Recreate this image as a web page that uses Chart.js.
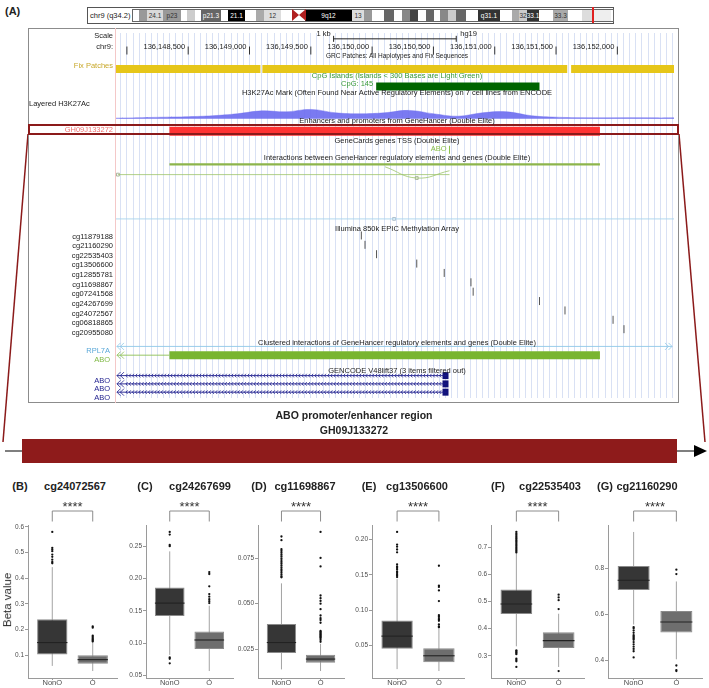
<!DOCTYPE html>
<html>
<head>
<meta charset="utf-8">
<title>ABO promoter/enhancer region and probe methylation</title>
<script src="https://cdn.jsdelivr.net/npm/chart.js"></script>
<style>
  html, body { margin: 0; padding: 0; background: #fff; }
  body { width: 709px; height: 688px; position: relative; overflow: hidden;
         font-family: "Liberation Sans", Arial, Helvetica, sans-serif; }
  .abs { position: absolute; white-space: nowrap; }
  canvas { position: absolute; }
</style>
</head>
<body>
<svg width="709" height="688" style="position:absolute;left:0;top:0">
  <line x1="28" y1="134" x2="3" y2="442" stroke="#8b1a1a" stroke-width="1.5"/>
  <line x1="679" y1="134" x2="705" y2="442" stroke="#8b1a1a" stroke-width="1.5"/>
  <line x1="5" y1="451" x2="697" y2="451" stroke="#000" stroke-width="1.2"/>
  <polygon points="694,445 707,451 694,457" fill="#000"/>
  <rect x="22" y="439" width="655" height="24" fill="#8e1b1b"/>
</svg>
<script>
// ---------------- genome browser (A) ----------------
var viewStart = 147903, viewEnd = 152462;
var rulerTicks = [148000, 148500, 149000, 149500, 150000, 150500, 151000, 151500, 152000];
var scaleBar = [149686, 150686];
var fixPatches = [[147903, 149089], [149105, 151591], [151623, 152462]];
var cpgIsland = [150033, 151365];
var geneHancer = [148347, 151858];
var aboTss = 150631;
var interaction = [148347, 151858];
var interactionLink = [147927, 150631];
var interactionArc = [150106, 150364, 150631];
var clusterAnchor = 150179;
var h3kPos = [147903, 148100, 148300, 148500, 148700, 148900, 149100, 149300, 149500, 149700, 149900, 150100,
              150300, 150500, 150700, 150900, 151100, 151300, 151500, 151700, 151900, 152100, 152300, 152462];
var h3kVal = [0.5, 1, 1.5, 2, 3, 5, 8, 7, 9.5, 6, 5, 6, 8.5, 5, 2.5, 6, 7, 3, 1.5, 1, 0.8, 1, 0.8, 0.8];
var probeNames = ['cg11879188', 'cg21160290', 'cg22535403', 'cg13506600', 'cg12855781', 'cg11698867',
                  'cg07241568', 'cg24267699', 'cg24072567', 'cg06818865', 'cg20955080'];
var probePos = [149912, 149942, 150036, 150364, 150588, 150806, 150824, 151365, 151573, 151965, 152054];
var rpl7a = [147919, 152446];
var aboCluster = [147919, 148347, 151858];
var aboTx = [147919, 150607];
var aboExon = [150574, 150623];

// ---------------- box plots (B)-(G) ----------------
var probes = ['cg24072567', 'cg24267699', 'cg11698867', 'cg13506600', 'cg22535403', 'cg21160290'];
var panelTags = ['(B)', '(C)', '(D)', '(E)', '(F)', '(G)'];
var groups = ['NonO', 'O'];
// [lower whisker, q1, median, q3, upper whisker]
var nonO = [
  [0.058, 0.102, 0.149, 0.240, 0.443],
  [0.082, 0.142, 0.162, 0.186, 0.242],
  [0.0138, 0.0228, 0.0286, 0.0388, 0.0612],
  [0.0167, 0.0455, 0.0634, 0.0854, 0.144],
  [0.335, 0.4544, 0.4906, 0.5444, 0.675],
  [0.556, 0.7056, 0.7486, 0.810, 0.958]
];
var oGroup = [
  [0.038, 0.0667, 0.0824, 0.0993, 0.148],
  [0.057, 0.091, 0.105, 0.118, 0.158],
  [0.0129, 0.0174, 0.0195, 0.0219, 0.0279],
  [0.014, 0.0266, 0.0356, 0.0464, 0.074],
  [0.259, 0.329, 0.356, 0.3865, 0.455],
  [0.405, 0.521, 0.567, 0.615, 0.743]
];
var nonOOut = [
  [0.580, 0.518, 0.512, 0.505, 0.492, 0.483, 0.472, 0.463, 0.458],
  [0.272, 0.268, 0.252, 0.250, 0.078, 0.076, 0.069],
  [0.0870, 0.0850, 0.0800, 0.0790, 0.0780, 0.0770, 0.0760, 0.0750, 0.0740, 0.0730, 0.0720, 0.0710,
   0.0700, 0.0690, 0.0680, 0.0670, 0.0660, 0.0650, 0.0645],
  [0.2108, 0.193, 0.190, 0.186, 0.182, 0.165, 0.162, 0.160, 0.158, 0.155, 0.153, 0.151, 0.149, 0.147],
  [0.756, 0.750, 0.745, 0.740, 0.735, 0.730, 0.725, 0.720, 0.715, 0.710, 0.705, 0.700, 0.695, 0.690,
   0.685, 0.680, 0.320, 0.317, 0.313, 0.310, 0.306, 0.290, 0.285, 0.280, 0.259],
  [0.545, 0.540, 0.530, 0.520, 0.510, 0.505, 0.500, 0.495, 0.490, 0.480, 0.470, 0.460, 0.450, 0.440, 0.413]
];
var oOut = [
  [0.212, 0.207, 0.176, 0.171, 0.166, 0.161, 0.157, 0.153],
  [0.210, 0.207, 0.188, 0.176, 0.172, 0.168, 0.165, 0.162],
  [0.0895, 0.0752, 0.0705, 0.0545, 0.0530, 0.0515, 0.0500, 0.0470, 0.0435, 0.0420, 0.0410, 0.0395,
   0.0350, 0.0345, 0.0340, 0.0335, 0.0330, 0.0325, 0.0320, 0.0315, 0.0310, 0.0300, 0.0290],
  [0.163, 0.135, 0.133, 0.128, 0.113, 0.093, 0.091, 0.089, 0.087, 0.085, 0.080, 0.077, 0.076],
  [0.525, 0.515, 0.505, 0.472, 0.244],
  [0.794, 0.775, 0.378, 0.358, 0.354]
];
var yTicks = [
  [0.1, 0.2, 0.3, 0.4, 0.5, 0.6],
  [0.05, 0.10, 0.15, 0.20, 0.25],
  [0.025, 0.050, 0.075],
  [0.05, 0.10, 0.15, 0.20],
  [0.3, 0.4, 0.5, 0.6, 0.7],
  [0.4, 0.6, 0.8]
];
var tickDecimals = [1, 2, 3, 2, 1, 1];

// ---------------- layout ----------------
var FONT = '"Liberation Sans", Arial, Helvetica, sans-serif';
var BX0 = 28, BY0 = 28, BW = 651, BH = 375, LABEL_W = 87;
var L = { scale: 34, ruler: 46, fix: 65, cpg: 83, h3kBase: 116, gh: 129, tss: 148, inter: 163,
          link: 173.5, clus: 219, probe0: 236, probeStep: 9.63, rpl7a: 350, abo: 359, tx: [380, 388.5, 397] };
var axisX = [28, 146, 258, 372, 491, 608];
var plotW = [90, 88, 87, 93, 94, 95];
var tagCX = [20, 145, 259, 369, 498, 605];
var titleCX = [75, 200, 305, 417, 550, 647];
var AXW = 34, PANEL_TOP = 500, PANEL_H = 196, PANEL_PB = 10, BOX_HALF = 0.375;

function txt(s, x, y, o) {
  o = o || {};
  var d = document.createElement('div');
  d.className = 'abs';
  d.textContent = s;
  var size = o.size || 7.5, lh = size * 1.2;
  d.style.fontSize = size + 'px';
  d.style.lineHeight = lh + 'px';
  d.style.top = (y - lh / 2) + 'px';
  d.style.left = x + 'px';
  d.style.color = o.color || '#222';
  if (o.bold) d.style.fontWeight = 'bold';
  if (o.align === 'center') d.style.transform = 'translateX(-50%)';
  if (o.align === 'right') d.style.transform = 'translateX(-100%)';
  document.body.appendChild(d);
  return d;
}
function box(x, y, w, h, css) {
  var d = document.createElement('div');
  d.className = 'abs';
  d.style.left = x + 'px'; d.style.top = y + 'px';
  d.style.width = w + 'px'; d.style.height = h + 'px';
  for (var k in css) d.style[k] = css[k];
  document.body.appendChild(d);
  return d;
}

// ---------------- ideogram ----------------
var IDEO_BANDS = [
  [133,139,'#fff'],[139,147,'#999'],[147,163,'#d9d9d9','24.1'],[163,181,'#999','p23'],[181,187,'#fff'],
  [187,195,'#ccc'],[195,201,'#fff'],[201,221,'#666','p21.3'],[221,228,'#fff'],[228,245,'#000','21.1'],
  [245,256,'#fff'],[256,264,'#aaa'],[264,281,'#ddd','12'],[281,293,'#fff'],[305,352,'#000','9q12'],
  [352,364,'#ddd','13'],[364,372,'#999'],[372,384,'#fff'],[384,394,'#666'],[394,402,'#fff'],[402,410,'#888'],
  [410,418,'#444'],[418,426,'#fff'],[426,434,'#666'],[434,440,'#fff'],[440,448,'#888'],[448,456,'#ccc'],
  [456,466,'#666'],[466,478,'#fff'],[478,500,'#333','q31.1'],[500,512,'#fff'],[512,519,'#aaa'],
  [519,527,'#ccc','32'],[527,539,'#333','33.1'],[539,553,'#fff'],[553,568,'#aaa','33.3'],[568,582,'#fff'],
  [582,592,'#ddd'],[592,611,'#eee']
];
box(87, 7, 525, 15, { border: '1px solid #555', background: '#fff' });
txt('chr9 (q34.2)', 90, 15, { size: 7.5 });
box(132, 9, 480, 11, { border: '1px solid #666' });
IDEO_BANDS.forEach(function (b) {
  box(b[0], 10, b[1] - b[0], 11, { background: b[2] });
  if (b[3]) {
    var dark = parseInt(b[2].substr(1, 1), 16) < 8;
    txt(b[3], (b[0] + b[1]) / 2, 15.5, { size: 6.5, align: 'center', color: dark ? '#fff' : '#333' });
  }
});
(function () {
  var s = document.createElementNS('http://www.w3.org/2000/svg', 'svg');
  s.setAttribute('width', '14'); s.setAttribute('height', '14');
  s.style.position = 'absolute'; s.style.left = '292px'; s.style.top = '9px';
  s.innerHTML = '<polygon points="0,0 7,6 0,12" fill="#b02020"/><polygon points="14,0 7,6 14,12" fill="#b02020"/>';
  document.body.appendChild(s);
})();
box(592, 7, 2, 16, { background: '#e02020' });
txt('(A)', 5, 12, { size: 11, bold: true });

// ---------------- browser frame ----------------
box(BX0, BY0, BW, BH, { border: '1px solid #8c8c8c', boxSizing: 'border-box' });

var chevPlugin = {
  id: 'chev',
  afterDatasetsDraw: function (c) {
    var ctx = c.ctx;
    c.data.datasets.forEach(function (ds, i) {
      if (!ds.chev) return;
      var pts = c.getDatasetMeta(i).data;
      var x0 = pts[0].x, x1 = pts[pts.length - 1].x, y = pts[0].y;
      ctx.save();
      ctx.strokeStyle = ds.borderColor;
      ctx.lineWidth = 0.8;
      if (ds.chev.step) {
        for (var x = x0 + 9; x < x1 - 4; x += ds.chev.step) {
          ctx.beginPath(); ctx.moveTo(x + 1.6, y - 1.8); ctx.lineTo(x, y); ctx.lineTo(x + 1.6, y + 1.8); ctx.stroke();
        }
      }
      [0, 3.5].forEach(function (o) {
        ctx.beginPath(); ctx.moveTo(x0 + o + 3.5, y - 3.5); ctx.lineTo(x0 + o, y); ctx.lineTo(x0 + o + 3.5, y + 3.5); ctx.stroke();
        if (ds.chev.right) {
          ctx.beginPath(); ctx.moveTo(x1 - o - 3.5, y - 3.5); ctx.lineTo(x1 - o, y); ctx.lineTo(x1 - o - 3.5, y + 3.5); ctx.stroke();
        }
      });
      ctx.restore();
    });
  }
};

function seg(r, y, color, w, extra) {
  var d = { type: 'line', data: [{ x: r[0], y: y }, { x: r[1], y: y }], borderColor: color, borderWidth: w,
            pointRadius: 0, borderCapStyle: 'butt' };
  for (var k in (extra || {})) d[k] = extra[k];
  return d;
}
function ticks(xs, ys, color, r) {
  return { type: 'scatter', data: xs.map(function (x, k) { return { x: x, y: Array.isArray(ys) ? ys[k] : ys }; }),
           pointStyle: 'line', rotation: 90, pointRadius: r, borderColor: color, borderWidth: 1, pointBorderWidth: 1 };
}

var bds = [];
bds.push(seg(scaleBar, L.scale, '#222', 1));
bds.push(ticks(scaleBar, L.scale, '#222', 3));
bds.push(ticks(rulerTicks, L.ruler, '#333', 4));
fixPatches.forEach(function (r) { bds.push(seg(r, L.fix, '#e6c619', 8)); });
bds.push(seg(cpgIsland, L.cpg, '#006400', 8));
bds.push({ type: 'line', data: h3kPos.map(function (p, k) { return { x: p, y: L.h3kBase - h3kVal[k] }; }),
           fill: { value: L.h3kBase }, backgroundColor: 'rgba(108,108,240,0.9)', borderColor: 'rgba(108,108,240,0.9)',
           borderWidth: 0.5, pointRadius: 0, tension: 0.4 });
bds.push(seg(geneHancer, L.gh, '#ff3333', 9));
bds.push(ticks([aboTss], L.tss, '#8cc04a', 4));
bds.push(seg(interaction, L.inter, '#8db54b', 2.2));
bds.push(seg(interactionLink, L.link, '#9cc46a', 0.8));
bds.push({ type: 'line', data: [{ x: interactionArc[0], y: L.link - 8 }, { x: interactionArc[1], y: L.link + 3.5 },
           { x: interactionArc[2], y: L.link - 4 }], borderColor: '#9cc46a', borderWidth: 0.8, pointRadius: 0, tension: 0.45 });
bds.push({ type: 'scatter', data: [{ x: interactionLink[0], y: L.link }, { x: interactionArc[1], y: L.link + 3.5 }],
           pointStyle: 'rect', pointRadius: 2, backgroundColor: '#fff', borderColor: '#8a9a7a', pointBorderWidth: 0.7 });
bds.push(seg([viewStart, viewEnd], L.clus, '#a8d4ec', 0.9));
bds.push({ type: 'scatter', data: [{ x: clusterAnchor, y: L.clus }], pointStyle: 'rect', pointRadius: 2,
           backgroundColor: '#fff', borderColor: '#8fa8b8', pointBorderWidth: 0.7 });
bds.push(ticks(probePos, probePos.map(function (p, k) { return L.probe0 + k * L.probeStep; }), '#555', 4));
bds.push(seg(rpl7a, L.rpl7a, '#8ec8e8', 0.9, { chev: { right: true } }));
bds.push(seg([aboCluster[0], aboCluster[1]], L.abo, '#8cbf55', 0.9, { chev: {} }));
bds.push(seg([aboCluster[1], aboCluster[2]], L.abo, '#79b530', 8));
L.tx.forEach(function (y) {
  bds.push(seg(aboTx, y, '#1c1c8c', 0.9, { chev: { step: 3.2 } }));
  bds.push(seg(aboExon, y, '#12127a', 7));
});

var bcv = document.createElement('canvas');
bcv.width = BW; bcv.height = BH;
bcv.style.left = BX0 + 'px'; bcv.style.top = BY0 + 'px';
document.body.appendChild(bcv);
var bchart = new Chart(bcv, {
  type: 'line',
  data: { datasets: bds },
  options: {
    responsive: false, animation: false, events: [],
    plugins: { legend: { display: false }, tooltip: { enabled: false } },
    layout: { padding: { left: LABEL_W, right: 0, top: 0, bottom: 0 } },
    scales: {
      x: { type: 'linear', min: viewStart, max: viewEnd, border: { display: false },
           grid: { color: '#d9e1f4', drawTicks: false }, ticks: { display: false },
           afterBuildTicks: function (s) {
             var t = [];
             for (var v = Math.ceil(viewStart / 50) * 50; v <= viewEnd; v += 50) t.push({ value: v });
             s.ticks = t;
           },
           afterFit: function (s) { s.height = 0; } },
      y: { type: 'linear', display: false, min: BY0, max: BY0 + BH, reverse: true }
    }
  },
  plugins: [chevPlugin]
});
box(BX0 + LABEL_W, BY0, 1, BH, { background: '#f4c8c8' });
box(BX0, 124, BW, 11, { border: '2px solid #8b1a1a', boxSizing: 'border-box' });

function bx(v) { return BX0 + bchart.scales.x.getPixelForValue(v); }
var CX = (BX0 + LABEL_W + BX0 + BW) / 2;
var LX = BX0 + LABEL_W - 2;
txt('Scale', LX, 35, { align: 'right' });
txt('chr9:', LX, L.ruler, { align: 'right' });
txt('1 kb', bx(scaleBar[0]) - 3, L.scale - 1, { align: 'right' });
txt('hg19', bx(scaleBar[1]) + 4, L.scale - 1);
rulerTicks.forEach(function (v, k) {
  if (k === 0) return;
  txt('136,' + String(v).replace(/^(\d{3})(\d{3})$/, '$1,$2'), bx(v) - 3, L.ruler, { align: 'right' });
});
txt('GRC Patches: All Haplotypes and Fix Sequences', CX, 56, { align: 'center', size: 6.5 });
txt('Fix Patches', LX, L.fix, { align: 'right', color: '#c8a82a' });
txt('CpG Islands (Islands < 300 Bases are Light Green)', CX, 75, { align: 'center', color: '#3a9a3a' });
txt('CpG: 145', bx(cpgIsland[0]) - 3, L.cpg, { align: 'right', color: '#3a9a3a' });
txt('H3K27Ac Mark (Often Found Near Active Regulatory Elements) on 7 cell lines from ENCODE', CX, 92, { align: 'center' });
txt('Layered H3K27Ac', BX0 + 1, 103);
txt('Enhancers and promoters from GeneHancer (Double Elite)', CX, 120.5, { align: 'center' });
txt('GH09J133272', LX, L.gh, { align: 'right', color: '#f07070' });
txt('GeneCards genes TSS (Double Elite)', CX, 140, { align: 'center' });
txt('ABO', bx(aboTss) - 3, L.tss, { align: 'right', color: '#8cc04a' });
txt('Interactions between GeneHancer regulatory elements and genes (Double Elite)', CX, 157.5, { align: 'center' });
txt('Illumina 850k EPIC Methylation Array', CX, 228, { align: 'center' });
probeNames.forEach(function (n, k) { txt(n, LX, L.probe0 + k * L.probeStep, { align: 'right' }); });
txt('Clustered interactions of GeneHancer regulatory elements and genes (Double Elite)', CX, 342.5, { align: 'center' });
txt('RPL7A', LX - 3, L.rpl7a, { align: 'right', color: '#5aa8d8' });
txt('ABO', LX - 3, L.abo, { align: 'right', color: '#7fb844' });
txt('GENCODE V48lift37 (3 items filtered out)', CX, 370.5, { align: 'center' });
L.tx.forEach(function (y) { txt('ABO', LX - 3, y, { align: 'right', color: '#1c1c8c' }); });

txt('ABO promoter/enhancer region', 354, 415, { align: 'center', bold: true, size: 10.5 });
txt('GH09J133272', 354, 430, { align: 'center', bold: true, size: 10.5 });

// ---------------- box plot panels ----------------
var bracketPlugin = {
  id: 'bracket',
  afterDraw: function (c) {
    var x = c.scales.x, a = c.chartArea, ctx = c.ctx;
    var x1 = x.getPixelForValue(1), x2 = x.getPixelForValue(2);
    ctx.save();
    ctx.strokeStyle = '#8c8c8c'; ctx.lineWidth = 1;
    ctx.beginPath();
    ctx.moveTo(x1, a.top - 3.5); ctx.lineTo(x1, a.top - 14); ctx.lineTo(x2, a.top - 14); ctx.lineTo(x2, a.top - 3.5);
    ctx.stroke();
    ctx.restore();
  }
};

function makePanel(i) {
  var W = plotW[i];
  var cv = document.createElement('canvas');
  cv.width = AXW + W + 3; cv.height = PANEL_H;
  var left = axisX[i] - AXW;
  cv.style.left = left + 'px'; cv.style.top = PANEL_TOP + 'px';
  document.body.appendChild(cv);

  var stats = [nonO[i], oGroup[i]];
  var outs = [nonOOut[i], oOut[i]];
  var all = [].concat(nonO[i], oGroup[i], nonOOut[i], oOut[i]);
  var lo = Math.min.apply(null, all), hi = Math.max.apply(null, all), pad = (hi - lo) * 0.05;

  var ds = [];
  ds.push({ type: 'scatter', order: 0,
            data: outs[0].map(function (v) { return { x: 1, y: v }; }).concat(outs[1].map(function (v) { return { x: 2, y: v }; })),
            pointRadius: 1.15, pointBackgroundColor: '#111', pointBorderWidth: 0 });
  stats.forEach(function (s, g) {
    ds.push({ type: 'line', order: 1, data: [{ x: g + 1 - BOX_HALF, y: s[2] }, { x: g + 1 + BOX_HALF, y: s[2] }],
              borderColor: '#222', borderWidth: 1.1, pointRadius: 0 });
    ds.push({ type: 'line', order: 3, data: [{ x: g + 1, y: s[0] }, { x: g + 1, y: s[4] }],
              borderColor: '#a3a3a3', borderWidth: 1, pointRadius: 0 });
  });
  ds.push({ type: 'bar', order: 2,
            data: stats.map(function (s, g) { return { x: g + 1, y: [s[1], s[3]] }; }),
            backgroundColor: ['#363636', '#6e6e6e'], borderColor: '#8a8a8a', borderWidth: 1, borderSkipped: false,
            categoryPercentage: 1, barPercentage: 2 * BOX_HALF });

  var ch = new Chart(cv, {
    type: 'bar',
    data: { datasets: ds },
    options: {
      responsive: false, animation: false, events: [],
      plugins: { legend: { display: false }, tooltip: { enabled: false } },
      layout: { padding: { top: 25, right: 3, left: 0, bottom: PANEL_PB } },
      scales: {
        x: { type: 'linear', min: 0.4, max: 2.6, offset: false,
             border: { color: '#9a9a9a', width: 1 },
             grid: { drawOnChartArea: false, tickLength: 2, color: '#9a9a9a', offset: false },
             ticks: { font: { size: 7.5, family: FONT }, color: '#4d4d4d', padding: -2,
                      callback: function (v) { return groups[v - 1]; } },
             afterBuildTicks: function (s) { s.ticks = [{ value: 1 }, { value: 2 }]; },
             afterFit: function (s) { s.height = 8; } },
        y: { type: 'linear', min: lo - pad, max: hi + pad,
             border: { color: '#9a9a9a', width: 1 },
             grid: { drawOnChartArea: false, tickLength: 3, color: '#9a9a9a' },
             ticks: { font: { size: 6.5, family: FONT }, color: '#4d4d4d', padding: 1,
                      callback: function (v) { return v.toFixed(tickDecimals[i]); } },
             afterBuildTicks: function (s) { s.ticks = yTicks[i].map(function (v) { return { value: v }; }); },
             afterFit: function (s) { s.width = AXW; } }
      }
    },
    plugins: [bracketPlugin]
  });

  var mid = left + ch.scales.x.getPixelForValue(1.5);
  txt(panelTags[i], tagCX[i], 487, { size: 11, bold: true });
  document.body.lastChild.style.transform = 'translateX(-50%)';
  txt(probes[i], titleCX[i], 487, { size: 11, bold: true, align: 'center' });
  txt('****', mid, 507, { size: 13, align: 'center', color: '#333' });
}
for (var i = 0; i < probes.length; i++) makePanel(i);

var bv = txt('Beta value', 8, 600, { size: 11.5, color: '#2a2a2a' });
bv.style.transform = 'translate(-50%, 0) rotate(-90deg)';
bv.style.transformOrigin = '50% 50%';
</script>
</body>
</html>
